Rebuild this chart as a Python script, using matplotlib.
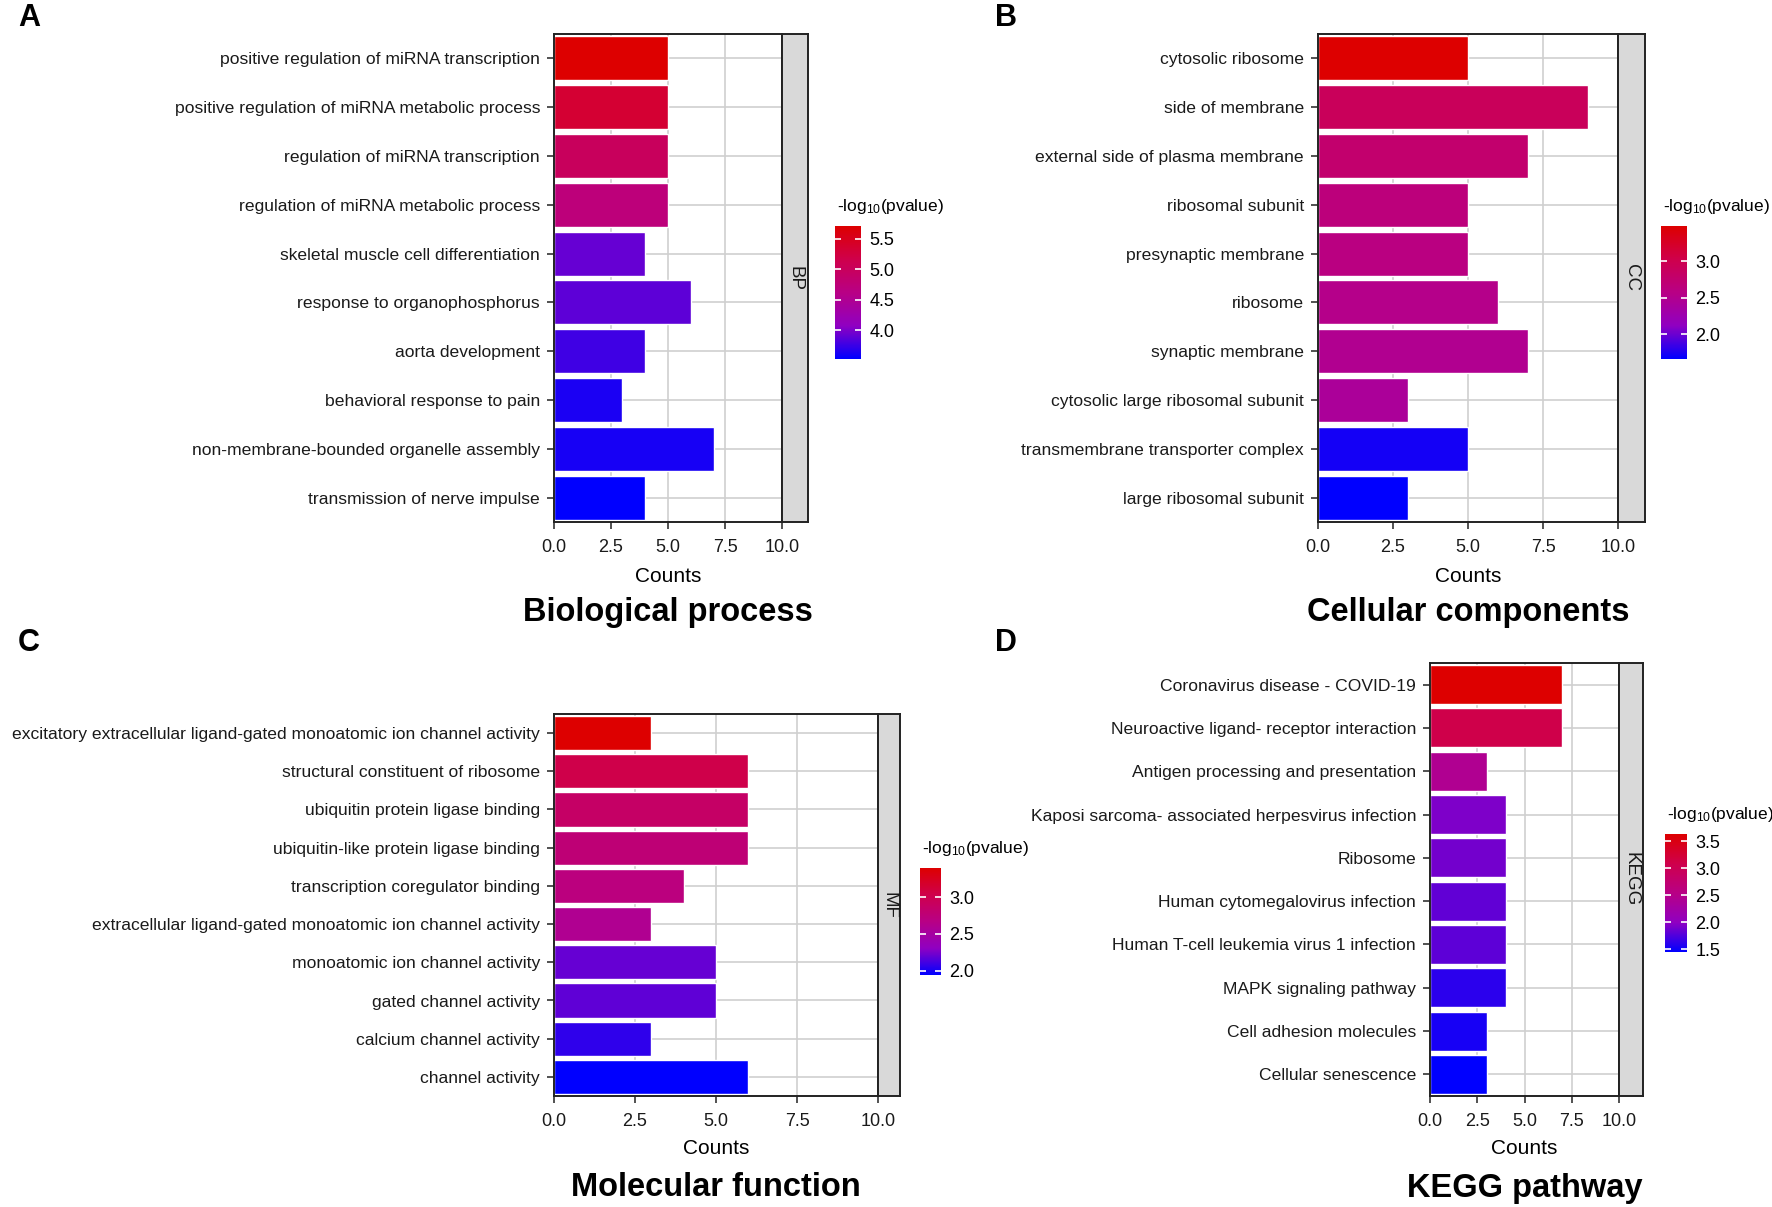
import numpy as np
import matplotlib
matplotlib.use("Agg")
import matplotlib.pyplot as plt
from matplotlib.colors import LinearSegmentedColormap, Normalize
from matplotlib.cm import ScalarMappable
from matplotlib.ticker import MultipleLocator, FormatStrFormatter

plt.rcParams['font.family'] = ['Liberation Sans Narrow', 'Liberation Sans', 'DejaVu Sans']
plt.rcParams['mathtext.default'] = 'regular'

W, H = 1772, 1207

# ---- data (top row first) ----
bp_terms = ['positive regulation of miRNA transcription',
            'positive regulation of miRNA metabolic process',
            'regulation of miRNA transcription',
            'regulation of miRNA metabolic process',
            'skeletal muscle cell differentiation',
            'response to organophosphorus',
            'aorta development',
            'behavioral response to pain',
            'non-membrane-bounded organelle assembly',
            'transmission of nerve impulse']
bp_counts = [5, 5, 5, 5, 4, 6, 4, 3, 7, 4]
bp_logp = [5.71, 5.34, 5.01, 4.73, 3.92, 3.88, 3.77, 3.64, 3.62, 3.53]

cc_terms = ['cytosolic ribosome',
            'side of membrane',
            'external side of plasma membrane',
            'ribosomal subunit',
            'presynaptic membrane',
            'ribosome',
            'synaptic membrane',
            'cytosolic large ribosomal subunit',
            'transmembrane transporter complex',
            'large ribosomal subunit']
cc_counts = [5, 9, 7, 5, 5, 6, 7, 3, 5, 3]
cc_logp = [3.48, 2.91, 2.76, 2.65, 2.60, 2.53, 2.49, 2.42, 1.73, 1.66]

mf_terms = ['excitatory extracellular ligand-gated monoatomic ion channel activity',
            'structural constituent of ribosome',
            'ubiquitin protein ligase binding',
            'ubiquitin-like protein ligase binding',
            'transcription coregulator binding',
            'extracellular ligand-gated monoatomic ion channel activity',
            'monoatomic ion channel activity',
            'gated channel activity',
            'calcium channel activity',
            'channel activity']
mf_counts = [3, 6, 6, 6, 4, 3, 5, 5, 3, 6]
mf_logp = [3.40, 3.04, 2.87, 2.77, 2.71, 2.60, 2.20, 2.18, 2.06, 1.94]

kegg_terms = ['Coronavirus disease - COVID-19',
              'Neuroactive ligand- receptor interaction',
              'Antigen processing and presentation',
              'Kaposi sarcoma- associated herpesvirus infection',
              'Ribosome',
              'Human cytomegalovirus infection',
              'Human T-cell leukemia virus 1 infection',
              'MAPK signaling pathway',
              'Cell adhesion molecules',
              'Cellular senescence']
kegg_counts = [7, 7, 3, 4, 4, 4, 4, 4, 3, 3]
kegg_logp = [3.63, 3.09, 2.43, 1.93, 1.89, 1.82, 1.80, 1.62, 1.54, 1.45]

cmap = LinearSegmentedColormap.from_list(
    'bluered', ['#0000FF', '#9000C1', '#B80085', '#CF004B', '#DD0000'])

sans = ['Liberation Sans', 'DejaVu Sans']


def px(x0, y0, x1, y1):
    # pixel box (top-left origin) -> figure fraction rect
    return [x0 / W, 1 - y1 / H, (x1 - x0) / W, (y1 - y0) / H]


def panel(fig, box, strip_x1, cbar_box, terms, counts, logp, strip_label,
          tag, tag_xy, title, counts_y, title_y):
    x0, y0, x1, y1 = box
    ax = fig.add_axes(px(*box))
    n = len(terms)
    ypos = np.arange(n, 0, -1)
    norm = Normalize(min(logp), max(logp))
    ax.barh(ypos, counts, height=0.9, color=cmap(norm(logp)),
            edgecolor='white', linewidth=1.0, zorder=2)
    ax.set_xlim(0, 10)
    ax.set_ylim(0.5, n + 0.5)
    ax.set_yticks(ypos)
    ax.set_yticklabels(terms, fontsize=12.6, color='#1a1a1a')
    ax.set_xticks([0, 2.5, 5, 7.5, 10])
    ax.xaxis.set_major_formatter(FormatStrFormatter('%.1f'))
    ax.tick_params(axis='x', labelsize=13, length=5, width=1.2, color='#333333',
                   labelcolor='#1a1a1a', pad=7)
    ax.tick_params(axis='y', length=5, width=1.2, color='#333333', pad=5)
    ax.set_axisbelow(True)
    ax.grid(True, color='#CFCFCF', linewidth=1.2)
    for s in ax.spines.values():
        s.set_linewidth(1.4)
        s.set_color('#222222')

    # facet strip on the right
    sx = fig.add_axes(px(x1, y0, strip_x1, y1))
    sx.set_facecolor('#D9D9D9')
    sx.set_xticks([])
    sx.set_yticks([])
    for s in sx.spines.values():
        s.set_linewidth(1.4)
        s.set_color('#222222')
    sx.text(0.5, 0.5, strip_label, rotation=270, ha='center', va='center',
            fontsize=13.5, family=sans, color='#1a1a1a', transform=sx.transAxes)

    # colour bar legend
    cx0, cy0, cx1, cy1 = cbar_box
    cax = fig.add_axes(px(*cbar_box))
    sm = ScalarMappable(norm=norm, cmap=cmap)
    cb = fig.colorbar(sm, cax=cax)
    cb.outline.set_visible(False)
    cb.ax.yaxis.set_major_locator(MultipleLocator(0.5))
    cb.ax.yaxis.set_major_formatter(FormatStrFormatter('%.1f'))
    cb.ax.tick_params(axis='y', direction='in', length=4, width=1.2, color='white',
                      left=True, right=True, labelsize=13, pad=6)
    for lab in cb.ax.get_yticklabels():
        lab.set_family(sans)
    fig.text((cx0 + 2) / W, 1 - (cy0 - 19) / H, r'-log$_{10}$(pvalue)',
             fontsize=12.5, family=sans, ha='left', va='center')

    xc = (x0 + x1) / 2 / W
    fig.text(xc, 1 - counts_y / H, 'Counts', fontsize=15, ha='center', va='center')
    fig.text(xc, 1 - title_y / H, title, fontsize=23.5, fontweight='bold',
             ha='center', va='center')
    fig.text(tag_xy[0] / W, 1 - tag_xy[1] / H, tag, fontsize=22,
             fontweight='bold', ha='center', va='center')
    return ax


fig = plt.figure(figsize=(W / 100, H / 100), dpi=100)

panel(fig, (554, 34, 782, 522), 808, (835, 226, 861, 359),
      bp_terms, bp_counts, bp_logp, 'BP', 'A', (29, 18),
      'Biological process', 576, 612)
panel(fig, (1318, 34, 1618, 522), 1645, (1661, 226, 1687, 359),
      cc_terms, cc_counts, cc_logp, 'CC', 'B', (1006, 18),
      'Cellular components', 576, 612)
panel(fig, (554, 714, 878, 1096), 900, (920, 868, 941, 975),
      mf_terms, mf_counts, mf_logp, 'MF', 'C', (29, 643),
      'Molecular function', 1149, 1188)
panel(fig, (1430, 663, 1619, 1096), 1643, (1665, 834, 1687, 952),
      kegg_terms, kegg_counts, kegg_logp, 'KEGG', 'D', (1006, 643),
      'KEGG pathway', 1149, 1188)

fig.savefig('out.png', dpi=100, facecolor='white')
